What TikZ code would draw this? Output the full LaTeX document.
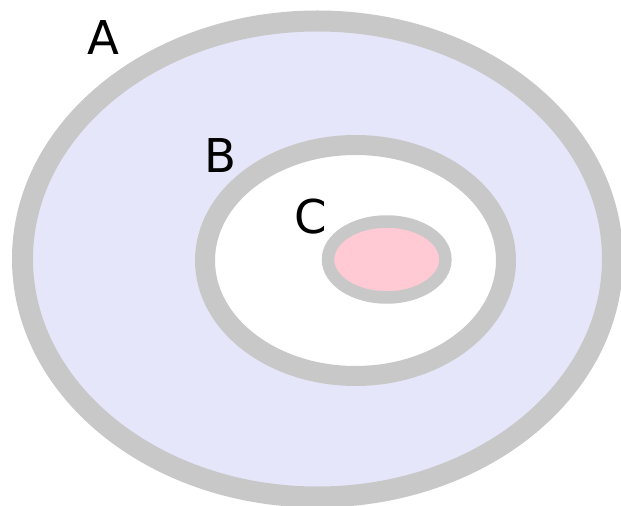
\documentclass[tikz,border=0pt]{standalone}
\usepackage{fontspec}
\setmainfont{DejaVu Sans}
\definecolor{ringgray}{HTML}{C8C8C8}
\definecolor{lavend}{HTML}{E6E6FA}
\definecolor{pinkfill}{HTML}{FFCAD4}
\begin{document}
\begin{tikzpicture}[x=1bp,y=-1bp,
  ring/.style={draw=ringgray},
  lbl/.style={inner sep=0pt,anchor=base,font=\fontsize{46.6bp}{56bp}\selectfont}]
\useasboundingbox (0,0) rectangle (621,506);
\fill[white] (0,0) rectangle (621,506);
\draw[ring,fill=lavend,line width=21bp] (317.5,259) ellipse [x radius=295, y radius=238];
\draw[ring,fill=white,line width=20bp] (355.5,260.5) ellipse [x radius=150.5, y radius=115.5];
\draw[ring,fill=pinkfill,line width=12.5bp] (386.7,259.5) ellipse [x radius=58.7, y radius=38];
\node[lbl] (A) at (103.5,55) {A};
\node[lbl] (B) at (220,173) {B};
\node[lbl] (C) at (310.5,234) {C};
\end{tikzpicture}
\end{document}
